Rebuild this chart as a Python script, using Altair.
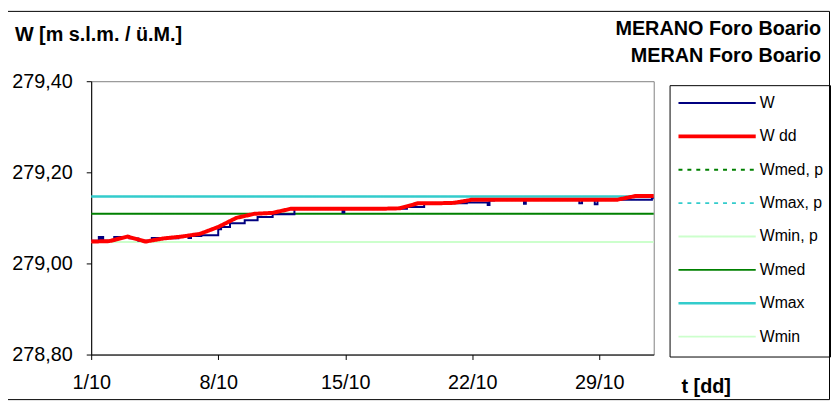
import altair as alt
import pandas as pd

# ---------------- data ----------------
SERIES = ["W", "W dd", "Wmed, p", "Wmax, p", "Wmin, p", "Wmed", "Wmax", "Wmin"]
COLORS = ["#000080", "#ff0000", "#008000", "#33cccc", "#ccffcc", "#008000", "#33cccc", "#ccffcc"]
DASHES = [[1, 0], [1, 0], [4, 5], [4, 5], [1, 0], [1, 0], [1, 0], [1, 0]]
WIDTHS = [2, 4, 2, 2, 2, 2, 2.5, 2]

# W (hourly level, stored as step changes): day offset from 1/10 and level
W_DAY = [0.0, 0.42, 0.5, 0.6, 0.66, 1.27, 2.1, 2.6, 3.34, 4.27, 4.81, 5.36, 5.5,
         6.07, 7.0, 7.16, 7.65, 8.46, 9.17, 10.0, 11.2, 13.85, 13.95, 17.4, 18.35,
         20.7, 21.85, 21.95, 22.2, 23.85, 23.95, 26.9, 27.05, 27.75, 27.9, 30.9, 31.0]
W_VAL = [279.050, 279.058, 279.050, 279.058, 279.050, 279.058, 279.055, 279.050,
         279.056, 279.055, 279.060, 279.056, 279.060, 279.062, 279.075, 279.080,
         279.088, 279.095, 279.102, 279.108, 279.120, 279.112, 279.120, 279.124,
         279.132, 279.134, 279.128, 279.138, 279.140, 279.131, 279.140, 279.132,
         279.140, 279.130, 279.140, 279.143, 279.143]

# W dd (daily means)
WDD_DAY = list(range(0, 32))
WDD_VAL = [279.048, 279.049, 279.059, 279.048, 279.055, 279.059, 279.065, 279.080,
           279.100, 279.109, 279.111, 279.120, 279.120, 279.120, 279.120, 279.120,
           279.120, 279.121, 279.132, 279.132, 279.133, 279.140, 279.140, 279.140,
           279.140, 279.140, 279.140, 279.140, 279.140, 279.140, 279.148, 279.148]

# reference levels
REF_NAMES = ["Wmed", "Wmax", "Wmin"]
REF_VALS = [279.109, 279.147, 279.047]

X_TICKS = [0, 7, 14, 21, 28]
X_LABELS = ["1/10", "8/10", "15/10", "22/10", "29/10"]
Y_TICKS = [278.8, 279.0, 279.2, 279.4]
Y_LABELS = ["278,80", "279,00", "279,20", "279,40"]

TITLE_LEFT = "W [m s.l.m. / ü.M.]"
TITLE_RIGHT_1 = "MERANO Foro Boario"
TITLE_RIGHT_2 = "MERAN Foro Boario"
X_TITLE = "t [dd]"

FONT = "Liberation Sans, Arial, sans-serif"

# ---------------- frames ----------------
w_df = pd.DataFrame({"day": W_DAY, "value": W_VAL, "series": "W"})
wdd_df = pd.DataFrame({"day": WDD_DAY, "value": WDD_VAL, "series": "W dd"})
ref_df = pd.DataFrame({"value": REF_VALS, "series": REF_NAMES})

x_expr = " : ".join(f"datum.value == {v} ? '{l}'" for v, l in zip(X_TICKS, X_LABELS)) + " : ''"
y_expr = " : ".join(f"abs(datum.value - {v}) < 0.001 ? '{l}'" for v, l in zip(Y_TICKS, Y_LABELS)) + " : ''"

color = alt.Color("series:N", scale=alt.Scale(domain=SERIES, range=COLORS), legend=None)
dash = alt.StrokeDash("series:N", scale=alt.Scale(domain=SERIES, range=DASHES), legend=None)
swidth = alt.StrokeWidth("series:N", scale=alt.Scale(type="ordinal", domain=SERIES, range=WIDTHS), legend=None)

xenc = alt.X("day:Q", scale=alt.Scale(domain=[0, 31], nice=False, zero=False),
             axis=alt.Axis(title=None, values=X_TICKS, labelExpr=x_expr, grid=False,
                           tickSize=5, labelPadding=13, labelFlush=False))
yenc = alt.Y("value:Q", scale=alt.Scale(domain=[278.8, 279.4], nice=False, zero=False),
             axis=alt.Axis(title=None, values=Y_TICKS, labelExpr=y_expr, grid=False,
                           tickSize=5, labelPadding=14))

rules = alt.Chart(ref_df).mark_rule().encode(
    y=alt.Y("value:Q", scale=alt.Scale(domain=[278.8, 279.4], nice=False, zero=False)),
    color=color, strokeDash=dash, strokeWidth=swidth)

w_line = alt.Chart(w_df).mark_line(interpolate="step-after").encode(
    x=xenc, y=yenc, color=color, strokeDash=dash, strokeWidth=swidth)

wdd_line = alt.Chart(wdd_df).mark_line().encode(
    x="day:Q", y="value:Q", color=color, strokeDash=dash, strokeWidth=swidth)


def txt(s, x, y, align, size=20, weight="bold", baseline="alphabetic"):
    return alt.Chart(pd.DataFrame({"t": [s]})).mark_text(
        align=align, baseline=baseline, font=FONT, fontSize=size,
        fontWeight=weight, color="black").encode(
        text="t:N", x=alt.value(x), y=alt.value(y))


def frame(x1, x2, y1, y2):
    return alt.Chart(pd.DataFrame({"a": [0]})).mark_rect(
        filled=False, stroke="black", strokeWidth=1).encode(
        x=alt.value(x1), x2=alt.value(x2), y=alt.value(y1), y2=alt.value(y2))


# legend (drawn by hand, Excel style)
legend_layers = [frame(584.5, 746.5, 4.5, 278.5)]
for i, (name, col, dsh, wd) in enumerate(zip(SERIES, COLORS, DASHES, WIDTHS)):
    yy = 22 + i * 33.7
    legend_layers.append(
        alt.Chart(pd.DataFrame({"s": [name]})).mark_rule(
            color=col, strokeDash=dsh, strokeWidth=wd).encode(
            x=alt.value(593), x2=alt.value(671), y=alt.value(yy)))
    legend_layers.append(txt(name, 675, yy, "left", size=16, weight="normal", baseline="middle"))

chart = alt.layer(
    frame(-84.5, 745.5, -70.5, 321.5), rules, w_line, wdd_line,
    txt(TITLE_LEFT, -77, -41, "left"),
    txt(TITLE_RIGHT_1, 737, -47, "right"),
    txt(TITLE_RIGHT_2, 737, -19, "right"),
    txt(X_TITLE, 596, 315, "left"),
    *legend_layers,
).properties(
    width=568, height=276,
    autosize=alt.AutoSizeParams(type="none"),
    padding={"left": 84, "top": 72, "right": 179, "bottom": 47},
).configure_view(
    stroke="#808080", strokeWidth=1
).configure_axis(
    labelFont=FONT, labelFontSize=20, labelColor="black",
    domainColor="black", tickColor="black", domainWidth=1, tickWidth=1
)

chart.save("out.html", embed_options={"renderer": "svg", "actions": False})
